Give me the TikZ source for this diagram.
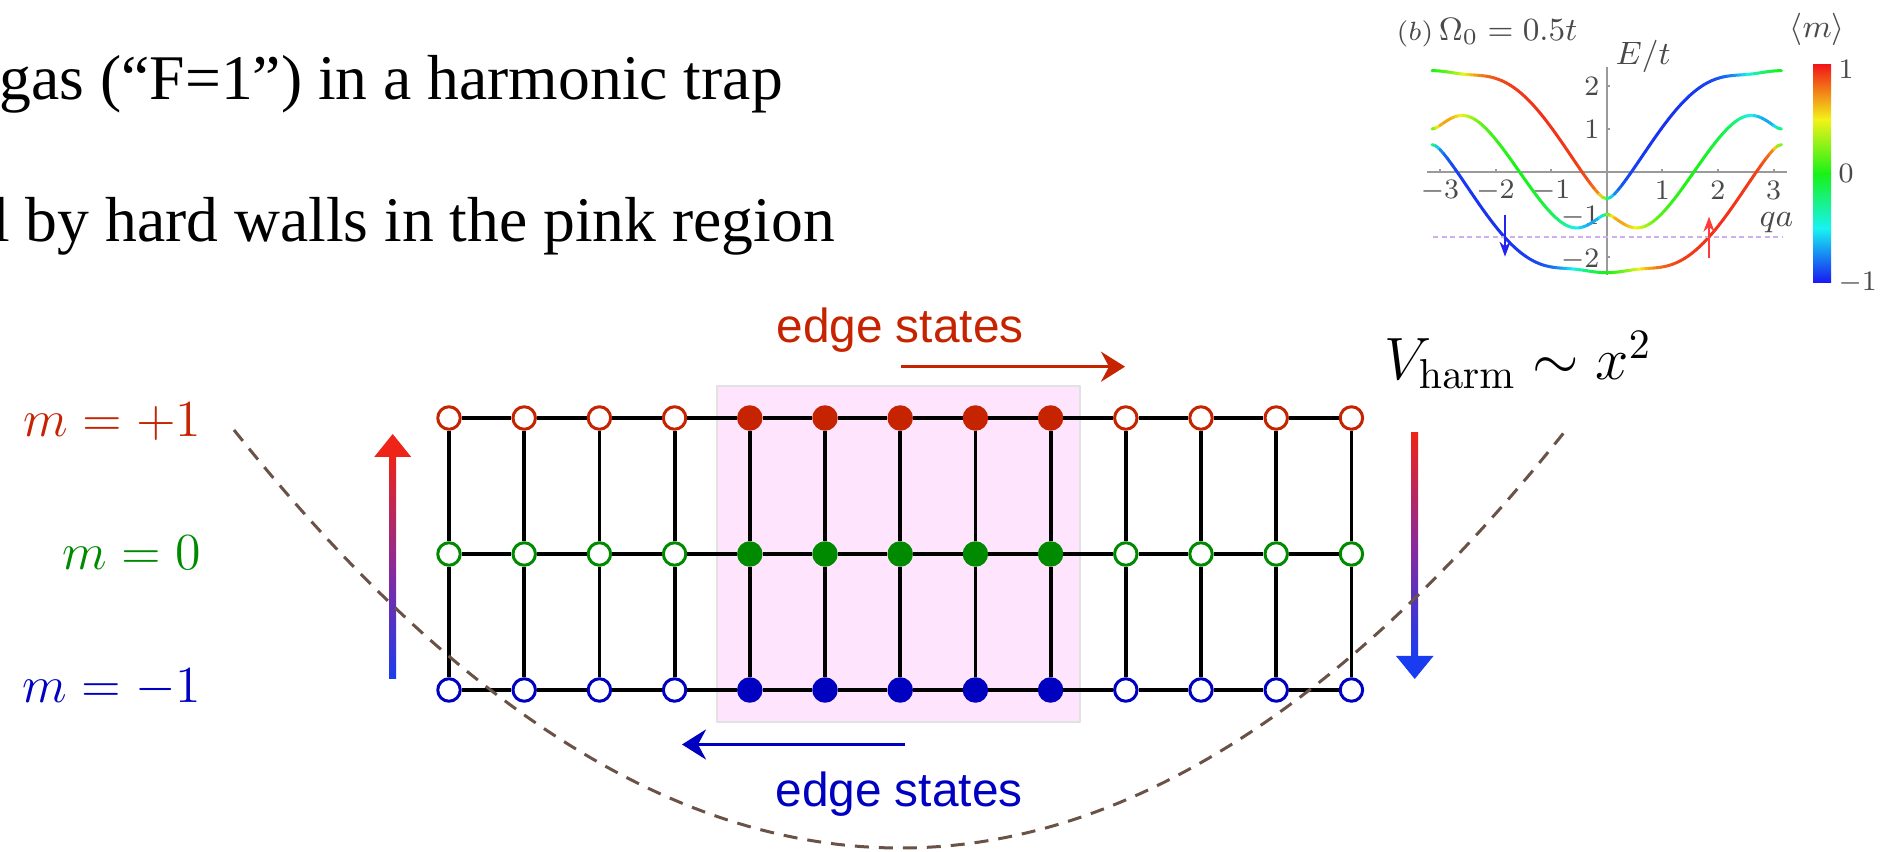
\RequirePackage{fix-cm}
\PassOptionsToPackage{rgb}{xcolor}
\documentclass[tikz,border=0pt]{standalone}
\usepackage[no-math]{fontspec}
\setmainfont{Liberation Serif}
\newfontfamily\edgefont{Liberation Sans}
\usetikzlibrary{arrows.meta}

\definecolor{sitered}{HTML}{C62300}
\definecolor{sitegreen}{HTML}{008A00}
\definecolor{siteblue}{HTML}{0000C0}
\definecolor{wallpink}{HTML}{FFE4FD}
\definecolor{wallgray}{HTML}{E2E2E2}
\definecolor{trapbrown}{HTML}{6B5247}
\definecolor{gradred}{HTML}{EE2418}
\definecolor{gradpurple}{HTML}{8A2A9A}
\definecolor{gradblue}{HTML}{1A3CF0}
\definecolor{insetgray}{HTML}{4A4A4A}
\definecolor{insetaxis}{HTML}{9A9A9A}
\definecolor{fermilevel}{HTML}{CDB0EC}
\definecolor{probered}{HTML}{FF3A3A}
\definecolor{probeblue}{HTML}{2424F0}
\definecolor{cbarA}{Hsb}{0,0.9,0.95}
\definecolor{cbarB}{Hsb}{60,0.9,0.95}
\definecolor{cbarC}{Hsb}{120,0.9,0.95}
\definecolor{cbarD}{Hsb}{180,0.9,0.95}
\definecolor{cbarE}{Hsb}{240,0.9,0.95}

\tikzset{
  slidetext/.style={inner sep=0pt,font=\fontsize{18.1}{21}\selectfont},
  mlabel/.style={inner sep=0pt,font=\fontsize{14.8}{17}\selectfont},
  potlabel/.style={inner sep=0pt,font=\fontsize{17}{20}\selectfont},
  edgelabel/.style={inner sep=0pt,font=\edgefont\fontsize{13.6}{16}\selectfont},
  site/.style={circle,inner sep=0pt,minimum size=2.25mm,line width=0.3mm},
  bond/.style={line width=0.38mm,black},
  edgeflow/.style={line width=0.35mm,-{Stealth[length=2.4mm,width=3mm,inset=0.8mm]}},
  trapline/.style={trapbrown,line width=0.3mm,dash pattern=on 1.4mm off 1mm},
  inaxis/.style={insetaxis,line width=0.2mm},
  intick/.style={inner sep=0pt,insetgray,font=\fontsize{8}{9}\selectfont},
  inlabel/.style={inner sep=0pt,insetgray,font=\fontsize{9.2}{11}\selectfont},
  bandline/.style={line width=0.3mm,line cap=round},
  fermiline/.style={fermilevel,line width=0.2mm,dash pattern=on 0.5mm off 0.35mm},
  probe/.style={line width=0.2mm,-{Stealth[length=1.5mm,width=1.1mm]}},
}

% Three coupled bands: eigenvalues of the 3x3 tridiagonal matrix at q (degrees).
\def\hW{0.5}
\newcommand\bandeig[1]{%
  \pgfmathsetmacro\hdA{-2*cos((#1)-60)}%
  \pgfmathsetmacro\hdB{-2*cos(#1)}%
  \pgfmathsetmacro\hdC{-2*cos((#1)+60)}%
  \pgfmathsetmacro\hQ{((\hdA)+(\hdB)+(\hdC))/3}%
  \pgfmathsetmacro\hP{sqrt((((\hdA)-(\hQ))*((\hdA)-(\hQ))+((\hdB)-(\hQ))*((\hdB)-(\hQ))+((\hdC)-(\hQ))*((\hdC)-(\hQ))+4*\hW*\hW)/6)}%
  \pgfmathsetmacro\hR{(((\hdA)-(\hQ))*((\hdB)-(\hQ))*((\hdC)-(\hQ))-((\hdA)+(\hdC)-2*(\hQ))*\hW*\hW)/(2*\hP*\hP*\hP)}%
  \pgfmathsetmacro\hR{max(-1,min(1,\hR))}%
  \pgfmathsetmacro\hPh{acos(\hR)/3}%
  \pgfmathsetmacro\lamA{(\hQ)+2*\hP*cos(\hPh)}%
  \pgfmathsetmacro\lamC{(\hQ)+2*\hP*cos(\hPh+120)}%
  \pgfmathsetmacro\lamB{3*(\hQ)-(\lamA)-(\lamC)}%
}
% <m> of the eigenvector for eigenvalue #1 (uses the last \bandeig).
\newcommand\bandm[2]{%
  \pgfmathsetmacro\hVa{\hW*((#1)-(\hdC))}%
  \pgfmathsetmacro\hVb{((#1)-(\hdA))*((#1)-(\hdC))}%
  \pgfmathsetmacro\hVc{\hW*((#1)-(\hdA))}%
  \pgfmathsetmacro#2{((\hVa)*(\hVa)-(\hVc)*(\hVc))/((\hVa)*(\hVa)+(\hVb)*(\hVb)+(\hVc)*(\hVc))}%
}
\newcommand\bandseg[3]{%
  \pgfmathsetmacro\bdhue{max(0,min(240,120*(1-(#3))))}%
  \definecolor{bandc}{Hsb}{\bdhue,0.9,0.95}%
  \draw[bandline,draw=bandc] (\xlo,{171.7-42.7*(#1)}) -- (\xhi,{171.7-42.7*(#2)});%
}

\begin{document}
\begin{tikzpicture}[x=0.1mm,y=-0.1mm,line join=round]
  % Frame of the slide crop.
  \useasboundingbox (0,0) rectangle (1881,852);

  % Slide text, cut by the left edge of the frame.
  \node[slidetext,anchor=base west] (line1) at (-1,100) {gas (“F=1”) in a harmonic trap};
  \node[slidetext,anchor=base west] (line2) at (-8.6,241.7) {l by hard walls in the pink region};

  % Hard-wall region behind the lattice.
  \fill[wallpink,draw=wallgray,line width=0.2mm] (717,386) rectangle (1080,722);

  % Lattice sites: open outside the walls, filled inside.
  \foreach \r/\sc/\yy in {1/sitered/418,2/sitegreen/554,3/siteblue/690} {
    \foreach \c in {0,...,12} {
      \ifnum\c<4 \def\sitefill{white}\else\ifnum\c>8 \def\sitefill{white}\else\def\sitefill{\sc}\fi\fi
      \node[site,draw=\sc,fill=\sitefill] (s\r-\c) at ({449+75.2*\c},\yy) {};
    }
  }

  % Bonds along x and along the synthetic dimension.
  \foreach \r in {1,2,3} {
    \foreach \c [evaluate=\c as \cn using int(\c+1)] in {0,...,11}
      \draw[bond] (s\r-\c) -- (s\r-\cn);
  }
  \foreach \c in {0,...,12} {
    \draw[bond] (s1-\c) -- (s2-\c);
    \draw[bond] (s2-\c) -- (s3-\c);
  }

  % Spin labels.
  \node[mlabel,text=sitered,anchor=base east] (mup) at (202,437) {$m=+1$};
  \node[mlabel,text=sitegreen,anchor=base east] (mzero) at (202,570) {$m=0$};
  \node[mlabel,text=siteblue,anchor=base east] (mdown) at (202,703) {$m=-1$};

  % Edge states and their direction.
  \node[edgelabel,text=sitered,anchor=base] (edgetop) at (900,343) {edge states};
  \coordinate (flowtopL) at (901,366.7);
  \coordinate (flowtopR) at (1125,366.7);
  \draw[edgeflow,sitered] (flowtopL) -- (flowtopR);
  \node[edgelabel,text=siteblue,anchor=base] (edgebot) at (899,806.7) {edge states};
  \coordinate (flowbotR) at (905,744.5);
  \coordinate (flowbotL) at (682,744.5);
  \draw[edgeflow,siteblue] (flowbotR) -- (flowbotL);

  % Shaded arrows beside the lattice.
  \shade[top color=gradred,bottom color=gradblue,middle color=gradpurple] (389.2,456) rectangle (396.2,679);
  \fill[gradred] (374.2,457) -- (411.2,457) -- (392.7,434) -- cycle;
  \shade[top color=gradred,bottom color=gradblue,middle color=gradpurple] (1411.2,433) rectangle (1418.2,657);
  \fill[gradblue] (1396,656) -- (1433.5,656) -- (1414.7,679) -- cycle;

  % Trap potential.
  \node[potlabel,anchor=base west] (vharm) at (1384,380) {$V_{\mathrm{harm}}\sim x^2$};
  \draw[trapline] plot[domain=234:1565,samples=120] (\x,{848-418*((\x-900)/666)*((\x-900)/666)});

  % Inset: band structure.
  \draw[inaxis] (1426.7,171.7) -- (1787,171.7);
  \draw[inaxis] (1606.7,66.7) -- (1606.7,275);
  \foreach \q in {-3,-2,-1,1,2,3} {
    \draw[inaxis] ({1606.7+55.6*\q},171.7) -- ++(0,-3);
    \node[intick] (xt\q) at ({1606.7+55.6*\q},190.7) {$\q$};
  }
  \foreach \e in {1,2} {
    \draw[inaxis] (1606.7,{171.7-42.7*\e}) -- ++(3,0);
    \node[intick,anchor=east] (yt\e) at (1600,{171.7-42.7*\e}) {$\e$};
  }
  \foreach \e in {-1,-2} {
    \draw[inaxis] (1606.7,{171.7-42.7*\e}) -- ++(3,0);
    \node[intick,anchor=east] (yt\e) at (1600,{174.7-42.7*\e}) {$\e$};
  }
  \foreach \i in {0,...,89} {
    \pgfmathsetmacro\qlo{-180+4*\i}
    \pgfmathsetmacro\qhi{\qlo+4}
    \pgfmathsetmacro\qmid{\qlo+2}
    \pgfmathsetmacro\xlo{1606.7+0.9704*\qlo}
    \pgfmathsetmacro\xhi{1606.7+0.9704*\qhi}
    \bandeig{\qlo}
    \let\loA\lamA \let\loB\lamB \let\loC\lamC
    \bandeig{\qhi}
    \let\hiA\lamA \let\hiB\lamB \let\hiC\lamC
    \bandeig{\qmid}
    \bandm{\lamA}\mA
    \bandm{\lamB}\mB
    \bandm{\lamC}\mC
    \bandseg{\loA}{\hiA}{\mA}
    \bandseg{\loB}{\hiB}{\mB}
    \bandseg{\loC}{\hiC}{\mC}
  }
  \draw[fermiline] (1433,236.7) -- (1781.7,236.7);
  \coordinate (probeLa) at (1505,215);
  \coordinate (probeLb) at (1505,256.7);
  \draw[probe,probeblue] (probeLa) -- (probeLb);
  \coordinate (probeRa) at (1709,258.3);
  \coordinate (probeRb) at (1709,216.7);
  \draw[probe,probered] (probeRa) -- (probeRb);
  \node[inlabel,anchor=base west] (etlabel) at (1615,65) {$E/t$};
  \node[inlabel,anchor=base west] (qalabel) at (1759,227) {$qa$};
  \node[inlabel,anchor=base west] (panel) at (1396,40.7) {{\fontsize{7.5}{8}\selectfont$(b)$}\,$\Omega_0=0.5t$};

  % Colour bar for <m>.
  \shade[top color=cbarA,bottom color=cbarB] (1813,65) rectangle (1831,119.5);
  \shade[top color=cbarB,bottom color=cbarC] (1813,119.5) rectangle (1831,174);
  \shade[top color=cbarC,bottom color=cbarD] (1813,174) rectangle (1831,228.5);
  \shade[top color=cbarD,bottom color=cbarE] (1813,228.5) rectangle (1831,283);
  \node[inlabel,anchor=base west] (mavg) at (1789,38) {$\langle m\rangle$};
  \node[intick,anchor=west] (cbtop) at (1838,69) {$1$};
  \node[intick,anchor=west] (cbmid) at (1838,173) {$0$};
  \node[intick,anchor=west] (cbbot) at (1838,283) {$-1$};
\end{tikzpicture}
\end{document}
